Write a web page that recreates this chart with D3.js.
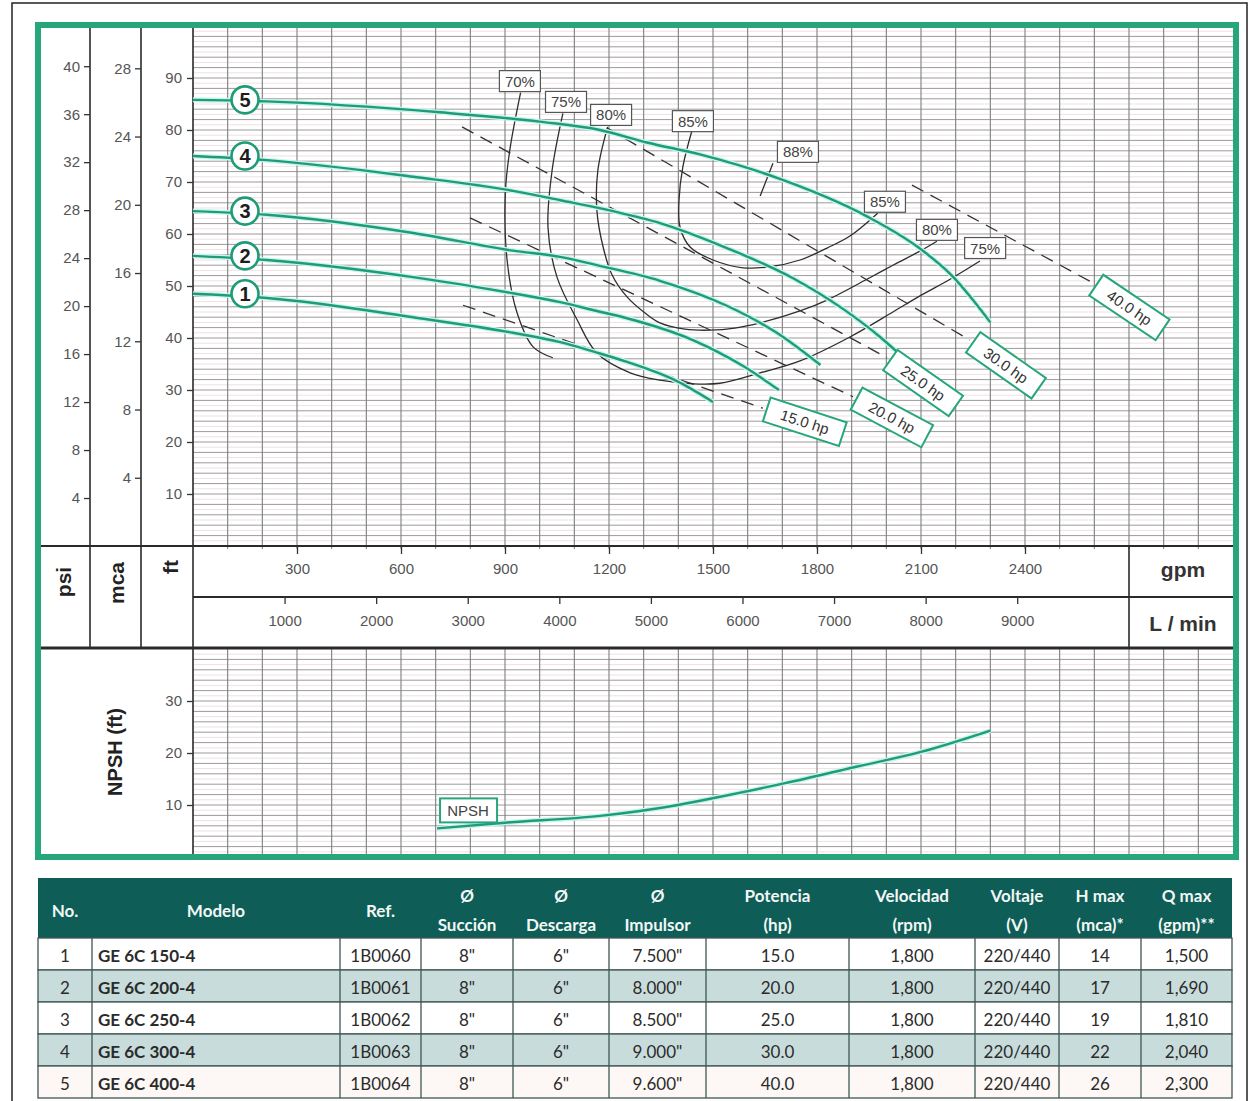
<!DOCTYPE html>
<html>
<head>
<meta charset="utf-8">
<script src="https://cdn.jsdelivr.net/npm/d3@7"></script>
<style>
  body { margin: 0; background: #fff; }
  svg { display: block; }
</style>
</head>
<body>
<svg id="chart" width="1250" height="1101"></svg>
<script>
// ---- axis ticks ----
const gpmTicks = [300, 600, 900, 1200, 1500, 1800, 2100, 2400];
const lpmTicks = [1000, 2000, 3000, 4000, 5000, 6000, 7000, 8000, 9000];
const ftTicks = [10, 20, 30, 40, 50, 60, 70, 80, 90];
const psiTicks = [4, 8, 12, 16, 20, 24, 28, 32, 36, 40];
const mcaTicks = [4, 8, 12, 16, 20, 24, 28];
const npshTicks = [10, 20, 30];

// ---- head curves (gpm, ft) for the five impeller sizes ----
const modelNos = [1, 2, 3, 4, 5];
const curve1 = [[0, 48.5], [213, 47.7], [635, 44.0], [923, 41.0], [1059, 39.2], [1165, 37.2], [1252, 35.4], [1396, 31.7], [1500, 27.7]];
const curve2 = [[0, 55.8], [213, 55.0], [635, 51.7], [923, 48.6], [1059, 46.9], [1165, 45.2], [1252, 43.8], [1442, 39.6], [1587, 34.6], [1690, 30.0]];
const curve3 = [[0, 64.4], [213, 63.7], [635, 60.2], [923, 56.8], [1059, 55.6], [1165, 54.0], [1347, 51.0], [1540, 46.2], [1684, 41.0], [1810, 34.8]];
const curve4 = [[0, 75.0], [213, 74.2], [635, 71.0], [923, 68.3], [1059, 66.5], [1211, 64.4], [1347, 62.1], [1540, 57.3], [1731, 51.5], [1875, 45.6], [1982, 40.2], [2040, 36.8]];
const curve5 = [[0, 85.8], [213, 85.5], [712, 83.4], [1000, 81.6], [1174, 80.0], [1309, 77.6], [1462, 75.3], [1693, 70.6], [1944, 63.4], [2097, 57.2], [2192, 51.8], [2250, 47.3], [2300, 43.0]];
const headCurves = [curve1, curve2, curve3, curve4, curve5];

// ---- iso-efficiency curves (gpm, ft) ----
const eff70 = [[945, 87.2], [914, 76.2], [901, 67.9], [906, 55.0], [935, 44.8], [981, 38.3], [1038, 36.2]];
const eff75 = [[1067, 83.2], [1036, 72.3], [1024, 61.3], [1050, 51.7], [1108, 43.5], [1165, 37.1], [1261, 33.3], [1347, 31.9], [1442, 31.2], [1520, 31.3], [1636, 33.3], [1751, 35.6], [1895, 40.2], [2019, 45.0], [2097, 48.1], [2184, 51.3], [2270, 54.8]];
const eff80 = [[1196, 80.6], [1168, 72.3], [1165, 64.6], [1183, 57.5], [1209, 52.1], [1252, 47.9], [1304, 44.8], [1347, 42.9], [1419, 41.7], [1491, 41.5], [1563, 41.9], [1636, 42.9], [1751, 45.2], [1829, 47.3], [1944, 51.3], [2019, 54.0], [2097, 56.7], [2146, 58.6]];
const eff85 = [[1439, 79.8], [1413, 72.9], [1402, 66.5], [1405, 61.3], [1434, 57.5], [1500, 55.0], [1587, 53.5], [1664, 53.7], [1751, 55.0], [1829, 57.3], [1895, 59.6], [1975, 64.0]];
const eff88 = [[1673, 73.6], [1636, 67.3]];
const effCurves = [eff70, eff75, eff80, eff85, eff88];

// efficiency tags: text and anchor (gpm, ft)
const effTagText = ["70%", "75%", "80%", "85%", "88%", "85%", "80%", "75%"];
const effTagAt = [[943, 89.4], [1076, 85.4], [1206, 82.9], [1442, 81.7], [1745, 75.8], [1996, 66.2], [2146, 60.8], [2285, 57.3]];

// ---- constant power lines (gpm, ft) ----
const hpText = ["15.0 hp", "20.0 hp", "25.0 hp", "30.0 hp", "40.0 hp"];
const hp15 = [[779, 46.3], [1644, 26.5]];
const hp20 = [[799, 63.1], [1904, 28.7]];
const hp25 = [[776, 80.6], [2002, 36.2]];
const hp30 = [[1194, 80.4], [2241, 39.6]];
const hp40 = [[2074, 69.4], [2596, 50.6]];
const hpLines = [hp15, hp20, hp25, hp30, hp40];
const hpTagTilt = [18, 28, 35, 35, 34];

// ---- NPSH required (gpm, ft) ----
const npsh = [[704, 5.5], [900, 6.6], [1174, 7.9], [1399, 10.0], [1506, 11.4], [1708, 14.2], [1910, 17.3], [2100, 20.2], [2300, 24.3]];

// ---- model table ----
const tableHead = [["No."], ["Modelo"], ["Ref."], ["Ø", "Succión"], ["Ø", "Descarga"], ["Ø", "Impulsor"], ["Potencia", "(hp)"], ["Velocidad", "(rpm)"], ["Voltaje", "(V)"], ["H max", "(mca)*"], ["Q max", "(gpm)**"]];
const tableRows = [
  ["1", "GE 6C 150-4", "1B0060", "8\"", "6\"", "7.500\"", "15.0", "1,800", "220/440", "14", "1,500"],
  ["2", "GE 6C 200-4", "1B0061", "8\"", "6\"", "8.000\"", "20.0", "1,800", "220/440", "17", "1,690"],
  ["3", "GE 6C 250-4", "1B0062", "8\"", "6\"", "8.500\"", "25.0", "1,800", "220/440", "19", "1,810"],
  ["4", "GE 6C 300-4", "1B0063", "8\"", "6\"", "9.000\"", "30.0", "1,800", "220/440", "22", "2,040"],
  ["5", "GE 6C 400-4", "1B0064", "8\"", "6\"", "9.600\"", "40.0", "1,800", "220/440", "26", "2,300"]
];

// ================= drawing =================
const svg = d3.select("#chart");
const GREEN = "#27a67c";
const CURVE = "#1f9c77";
const FONT = "'Liberation Sans', Arial, sans-serif";
const TFONT = "Lato, 'Open Sans', sans-serif";

const L = 193, R = 1233, TOP = 26, BASE = 546, NTOP = 649, NBASE = 857;
const GPM_MAX = 3000, FT_MAX = 100;

const x = d3.scaleLinear().domain([0, GPM_MAX]).range([L, R]);
const xl = d3.scaleLinear().domain([0, GPM_MAX * 3.785411784]).range([L, R]);
const y = d3.scaleLinear().domain([0, FT_MAX]).range([BASE, TOP]);
const yPsi = d3.scaleLinear().domain([0, FT_MAX / 2.30666]).range([BASE, TOP]);
const yMca = d3.scaleLinear().domain([0, FT_MAX * 0.3048]).range([BASE, TOP]);
const yN = d3.scaleLinear().domain([0, 40]).range([NBASE, NTOP]);

// page border
svg.append("rect").attr("x", 12).attr("y", 3).attr("width", 1235).attr("height", 1110)
  .attr("fill", "none").attr("stroke", "#222").attr("stroke-width", 1.5);

// ---- grids: 1 ft rules (even ones stronger), 100 gpm verticals ----
function grid(g, yScale, maxFt, y0, y1) {
  const rules = d3.range(1, maxFt, 1);
  g.append("g").selectAll("line").data(rules).join("line")
    .attr("x1", L).attr("x2", R)
    .attr("y1", d => yScale(d)).attr("y2", d => yScale(d))
    .attr("stroke", d => d % 2 === 0 ? "#9b9b9b" : "#f0e1e1")
    .attr("stroke-width", 1);
  g.append("g").selectAll("line").data(d3.range(100, GPM_MAX, 100)).join("line")
    .attr("x1", d => x(d)).attr("x2", d => x(d))
    .attr("y1", y0).attr("y2", y1 + 3)
    .attr("stroke", "#7f7f7f").attr("stroke-width", 1.1);
}
grid(svg.append("g"), y, FT_MAX, TOP, BASE);
grid(svg.append("g"), yN, 40, NTOP, NBASE - 3);

// ---- frame lines ----
const frame = svg.append("g").attr("stroke", "#2a2a2a").attr("fill", "none");
frame.append("line").attr("x1", 90).attr("x2", 90).attr("y1", TOP).attr("y2", 648).attr("stroke-width", 1.6);
frame.append("line").attr("x1", 141).attr("x2", 141).attr("y1", TOP).attr("y2", 648).attr("stroke-width", 1.6);
frame.append("line").attr("x1", L).attr("x2", L).attr("y1", TOP).attr("y2", NBASE).attr("stroke-width", 1.6);
frame.append("line").attr("x1", 40).attr("x2", R).attr("y1", BASE).attr("y2", BASE).attr("stroke-width", 2);
frame.append("line").attr("x1", L).attr("x2", R).attr("y1", 597).attr("y2", 597).attr("stroke-width", 2);
frame.append("line").attr("x1", 1129).attr("x2", 1129).attr("y1", BASE).attr("y2", 648).attr("stroke-width", 1.6);
frame.append("line").attr("x1", 40).attr("x2", R).attr("y1", 648).attr("y2", 648).attr("stroke-width", 3);

// ---- axes ----
function styleAxis(g) {
  g.select(".domain").remove();
  g.selectAll(".tick line").attr("stroke", "#333").attr("stroke-width", 1.3);
  g.selectAll(".tick text").attr("fill", "#555").style("font-family", FONT).style("font-size", "15px");
}
svg.append("g").attr("transform", "translate(90,0)")
  .call(d3.axisLeft(yPsi).tickValues(psiTicks).tickSize(6).tickPadding(4)).call(styleAxis);
svg.append("g").attr("transform", "translate(141,0)")
  .call(d3.axisLeft(yMca).tickValues(mcaTicks).tickSize(6).tickPadding(4)).call(styleAxis);
svg.append("g").attr("transform", `translate(${L},0)`)
  .call(d3.axisLeft(y).tickValues(ftTicks).tickSize(6).tickPadding(5)).call(styleAxis);
svg.append("g").attr("transform", `translate(${L},0)`)
  .call(d3.axisLeft(yN).tickValues(npshTicks).tickSize(6).tickPadding(5)).call(styleAxis);
svg.append("g").attr("transform", `translate(0,${BASE})`)
  .call(d3.axisBottom(x).tickValues(gpmTicks).tickSize(8).tickPadding(9).tickFormat(d3.format("d"))).call(styleAxis);
svg.append("g").attr("transform", "translate(0,597)")
  .call(d3.axisBottom(xl).tickValues(lpmTicks).tickSize(7).tickPadding(11).tickFormat(d3.format("d"))).call(styleAxis);

// axis titles
function vTitle(tx, ty, txt, size) {
  svg.append("text").attr("transform", `translate(${tx},${ty}) rotate(-90)`)
    .attr("text-anchor", "middle").attr("dominant-baseline", "central")
    .style("font-family", FONT).style("font-weight", "bold").style("font-size", size + "px")
    .attr("fill", "#222").text(txt);
}
vTitle(63, 582, "psi", 21);
vTitle(116, 583, "mca", 21);
vTitle(170, 567, "ft", 21);
vTitle(115, 752, "NPSH (ft)", 20);
svg.append("text").attr("x", 1183).attr("y", 569).attr("text-anchor", "middle").attr("dominant-baseline", "central")
  .style("font-family", FONT).style("font-weight", "bold").style("font-size", "21px").attr("fill", "#333").text("gpm");
svg.append("text").attr("x", 1183).attr("y", 623).attr("text-anchor", "middle").attr("dominant-baseline", "central")
  .style("font-family", FONT).style("font-weight", "bold").style("font-size", "21px").attr("fill", "#333").text("L / min");

// ---- constant power lines ----
const straight = d3.line().x(d => x(d[0])).y(d => y(d[1]));
svg.append("g").selectAll("path").data(hpLines).join("path")
  .attr("d", straight).attr("fill", "none").attr("stroke", "#333")
  .attr("stroke-width", 1.3).attr("stroke-dasharray", "13,8");

// ---- efficiency curves ----
const smooth = d3.line().x(d => x(d[0])).y(d => y(d[1])).curve(d3.curveCatmullRom.alpha(0.5));
svg.append("g").selectAll("path").data(effCurves).join("path")
  .attr("d", smooth).attr("fill", "none").attr("stroke", "#2e2e2e").attr("stroke-width", 1.3);

// ---- head curves ----
const headLine = d3.line().x(d => x(d[0])).y(d => y(d[1])).curve(d3.curveMonotoneX);
svg.append("g").selectAll("path").data(headCurves).join("path")
  .attr("d", headLine).attr("fill", "none").attr("stroke", "#c8f4ee").attr("stroke-width", 5);
svg.append("g").selectAll("path").data(headCurves).join("path")
  .attr("d", headLine).attr("fill", "none").attr("stroke", CURVE).attr("stroke-width", 2.4);

// model number badges
const badges = svg.append("g").selectAll("g").data(headCurves).join("g")
  .attr("transform", d => `translate(${x(150)},${y(d[0][1])})`);
badges.append("circle").attr("r", 13.5).attr("fill", "#fff").attr("stroke", CURVE).attr("stroke-width", 2.6);
badges.append("text").attr("text-anchor", "middle").attr("dominant-baseline", "central")
  .style("font-family", FONT).style("font-weight", "bold").style("font-size", "20px").attr("fill", "#1e1e1e")
  .text((d, i) => modelNos[i]);

// ---- NPSH curve ----
const npshLine = d3.line().x(d => x(d[0])).y(d => yN(d[1])).curve(d3.curveMonotoneX);
svg.append("path").datum(npsh).attr("d", npshLine).attr("fill", "none").attr("stroke", "#c8f4ee").attr("stroke-width", 5);
svg.append("path").datum(npsh).attr("d", npshLine).attr("fill", "none").attr("stroke", CURVE).attr("stroke-width", 2.4);
const npTag = svg.append("g").attr("transform", `translate(${x(npsh[0][0]) + 31},${yN(npsh[0][1]) - 18})`);
npTag.append("rect").attr("x", -28).attr("y", -12).attr("width", 57).attr("height", 24)
  .attr("fill", "#fff").attr("stroke", GREEN).attr("stroke-width", 2);
npTag.append("text").attr("text-anchor", "middle").attr("dominant-baseline", "central")
  .style("font-family", FONT).style("font-size", "15px").attr("fill", "#444").text("NPSH");

// ---- efficiency tags ----
const effTags = svg.append("g").selectAll("g").data(effTagAt).join("g")
  .attr("transform", d => `translate(${x(d[0])},${y(d[1])})`);
effTags.append("rect").attr("x", -20.5).attr("y", -10.5).attr("width", 41).attr("height", 21)
  .attr("fill", "#fff").attr("stroke", "#555").attr("stroke-width", 1.2);
effTags.append("text").attr("text-anchor", "middle").attr("dominant-baseline", "central")
  .style("font-family", FONT).style("font-size", "15px").attr("fill", "#444")
  .text((d, i) => effTagText[i]);

// ---- power tags, placed past the end of each dashed line ----
const hpTags = svg.append("g").selectAll("g").data(hpLines).join("g")
  .attr("transform", (d, i) => {
    const e = d[1];
    const a = hpTagTilt[i] * Math.PI / 180;
    const cx = x(e[0]) + 44 * Math.cos(a), cy = y(e[1]) + 44 * Math.sin(a);
    return `translate(${cx},${cy}) rotate(${hpTagTilt[i]})`;
  });
hpTags.append("rect").attr("x", -40).attr("y", -12.5).attr("width", 80).attr("height", 25)
  .attr("fill", "#fff").attr("stroke", GREEN).attr("stroke-width", 2);
hpTags.append("text").attr("text-anchor", "middle").attr("dominant-baseline", "central")
  .style("font-family", FONT).style("font-size", "15px").attr("fill", "#333")
  .text((d, i) => hpText[i]);

// ---- outer green frame ----
svg.append("rect").attr("x", 38).attr("y", 25).attr("width", 1198).attr("height", 832)
  .attr("fill", "none").attr("stroke", GREEN).attr("stroke-width", 6);

// ---- model table ----
const colEdges = [38, 92, 340, 421, 513, 609, 706, 849, 975, 1059, 1141, 1232];
const headTop = 878, headBot = 938, rowH = 32;
const tbl = svg.append("g");
tbl.append("rect").attr("x", colEdges[0]).attr("y", headTop)
  .attr("width", colEdges[colEdges.length - 1] - colEdges[0]).attr("height", headBot - headTop)
  .attr("fill", "#0e5d56");
tableHead.forEach((lines, c) => {
  const cx = (colEdges[c] + colEdges[c + 1]) / 2;
  lines.forEach((t, k) => {
    const ty = lines.length === 1 ? 910 : (k === 0 ? 895 : 924);
    tbl.append("text").attr("x", cx).attr("y", ty).attr("text-anchor", "middle")
      .attr("dominant-baseline", "central").style("font-family", TFONT).style("font-weight", "bold")
      .style("font-size", "17px").attr("fill", "#f2f7f6").text(t);
  });
});
tableRows.forEach((row, r) => {
  const ry = headBot + r * rowH;
  tbl.append("rect").attr("x", colEdges[0]).attr("y", ry)
    .attr("width", colEdges[colEdges.length - 1] - colEdges[0]).attr("height", rowH)
    .attr("fill", r % 2 === 1 ? "#c8dddb" : (r === 4 ? "#fdf8f6" : "#fff"))
    .attr("stroke", "#3f5654").attr("stroke-width", 1.3);
  row.forEach((v, c) => {
    const left = c === 1;
    tbl.append("text")
      .attr("x", left ? colEdges[c] + 6 : (colEdges[c] + colEdges[c + 1]) / 2)
      .attr("y", ry + rowH / 2 + 1).attr("text-anchor", left ? "start" : "middle")
      .attr("dominant-baseline", "central").style("font-family", TFONT)
      .style("font-weight", left ? "bold" : "normal").style("font-size", "17px")
      .attr("fill", "#2b2b2b").text(v);
  });
});
tbl.append("g").selectAll("line").data(colEdges.slice(1, -1)).join("line")
  .attr("x1", d => d).attr("x2", d => d).attr("y1", headBot).attr("y2", headBot + rowH * tableRows.length)
  .attr("stroke", "#3f5654").attr("stroke-width", 1.3);
</script>
</body>
</html>
